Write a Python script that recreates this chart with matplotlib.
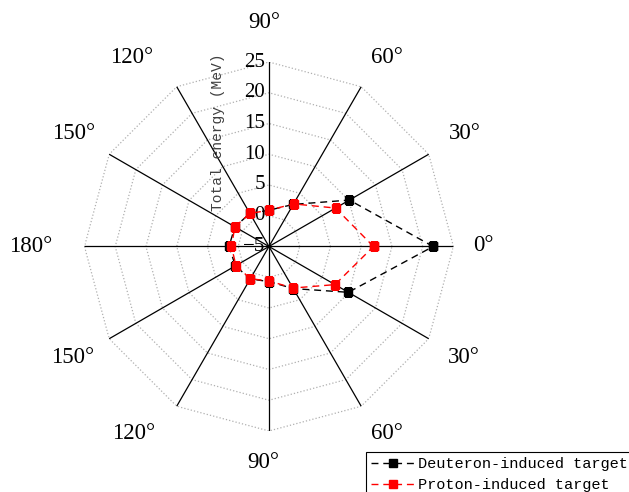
import numpy as np
import matplotlib.pyplot as plt

# angles in degrees, counter-clockwise from 0
angles_deg = [0, 30, 60, 90, 120, 150, 180, 210, 240, 270, 300, 330]
deuteron = [21.7, 10.1, 2.9, 0.9, 1.2, 1.4, 1.5, 1.3, 1.1, 0.7, 2.9, 9.9]
proton = [12.0, 7.5, 3.0, 0.9, 1.2, 1.4, 1.1, 1.2, 1.05, 0.6, 2.8, 7.4]
angle_labels = ['0°', '30°', '60°', '90°', '120°', '150°', '180°',
                '150°', '120°', '90°', '60°', '30°']
r_ticks = [-5, 0, 5, 10, 15, 20, 25]

serif = 'Liberation Serif'
mono = 'Liberation Mono'

fig = plt.figure(figsize=(6.29, 4.92), dpi=100)
ax = fig.add_axes([0.1343, 0.124, 0.5866, 0.75], projection='polar')

theta = np.deg2rad(angles_deg)
ax.set_rlim(-5, 25)
ax.grid(False)
ax.spines['polar'].set_visible(False)
ax.set_xticks([])
ax.set_yticks([])

# polygon grid rings (dotted) and solid spokes
th_closed = np.append(theta, theta[0])
for r in r_ticks[1:]:
    ax.plot(th_closed, [r] * len(th_closed), color='#b0b0b0', ls=':', lw=0.9, zorder=1)
for t in theta:
    ax.plot([t, t], [-5, 25], color='black', lw=0.9, zorder=2)

# data lines, closed
d_closed = deuteron + [deuteron[0]]
p_closed = proton + [proton[0]]
ax.plot(th_closed, d_closed, color='black', ls='--', dashes=(5, 3.5), lw=1.0,
        marker='s', markersize=6, label='Deuteron-induced target', zorder=4)
ax.plot(th_closed, p_closed, color='red', ls='--', dashes=(5, 3.5), lw=1.0,
        marker='s', markersize=6, label='Proton-induced target', zorder=5)

# angular labels, offset (pixels) from the end of each spoke
label_offsets = [(30, 1), (36, 21), (26, 29), (-5, 40), (-45, 29), (-36, 21),
                 (-54, 0), (-37, -19), (-43, -27), (-6, -32), (26, -27), (35, -19)]
for t, lab, off in zip(theta, angle_labels, label_offsets):
    ax.annotate(lab, xy=(t, 25), xytext=off, textcoords='offset pixels',
                ha='center', va='center', fontfamily=serif, fontsize=16.5,
                annotation_clip=False)

# radial labels along the 90 degree spoke
for r in r_ticks:
    ax.annotate(str(r).replace('-', '\u2212'), xy=(np.pi / 2, r), xytext=(-3, 0),
                textcoords='offset points', ha='right', va='center',
                fontfamily=serif, fontsize=15, zorder=3)

fig.text(218 / 629, 1 - 132 / 492, 'Total energy (MeV)', rotation=90,
         ha='center', va='center', fontfamily=mono, fontsize=10.5, color='#404040')

leg = fig.legend(loc='upper left', bbox_to_anchor=(366 / 629, 1 - 452 / 492),
                 prop={'family': mono, 'size': 11}, fancybox=False,
                 edgecolor='black', framealpha=1, borderaxespad=0,
                 handlelength=2.8, handletextpad=0.25, borderpad=0.35,
                 labelspacing=0.45)
leg.get_frame().set_linewidth(0.8)

fig.savefig('out.png', dpi=100)
